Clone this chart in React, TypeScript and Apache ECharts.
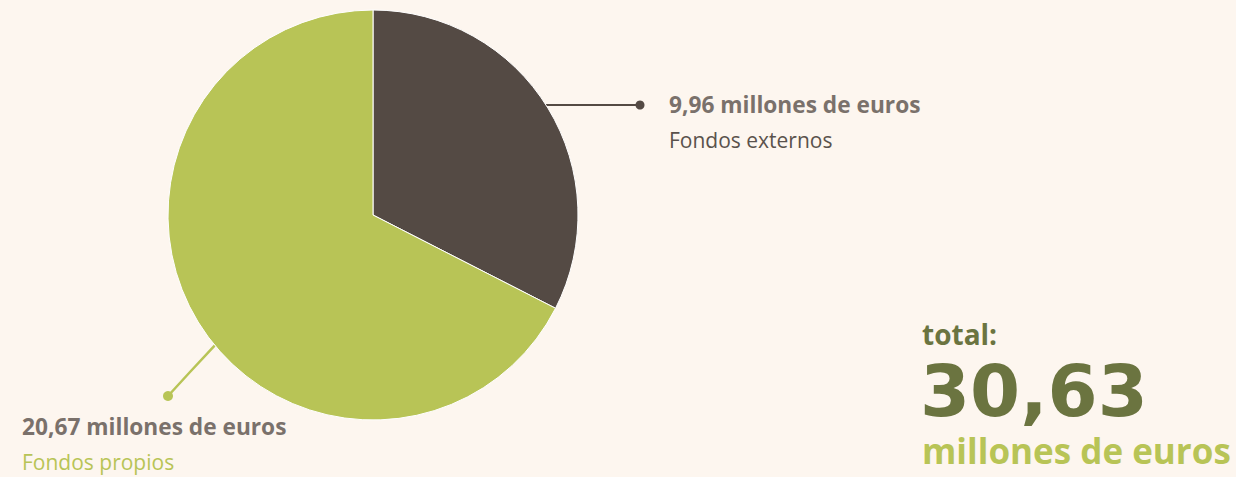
import React, { useEffect, useRef } from "react";
import * as echarts from "echarts";

const categories = ["Fondos externos", "Fondos propios"];
const values = [9.96, 20.67];
const valueLabels = ["9,96 millones de euros", "20,67 millones de euros"];
const totalLabel = "30,63";
const totalUnit = "millones de euros";
const totalTitle = "total:";

const COLORS = ["#544a44", "#b8c456"];
const BG = "#fdf6ef";
const FONT = "'Open Sans', 'Noto Sans', sans-serif";

export default function App() {
  const ref = useRef<HTMLDivElement>(null);
  useEffect(() => {
    document.body.style.margin = "0";
    const chart = echarts.init(ref.current!, null, { renderer: "svg" });
    const cx = 373, cy = 215, R = 205;
    const edgeAtY = (y: number) => [cx + Math.sqrt(R * R - (y - cy) * (y - cy)), y];
    const edgeAtAngle = (deg: number) => {
      const a = (deg * Math.PI) / 180;
      return [cx + R * Math.sin(a), cy - R * Math.cos(a)];
    };
    chart.setOption({
      animation: false,
      backgroundColor: BG,
      series: [
        {
          type: "pie",
          center: [cx, cy],
          radius: R,
          startAngle: 90,
          clockwise: true,
          silent: true,
          itemStyle: { borderColor: "#ffffff", borderWidth: 1 },
          data: categories.map((c, i) => ({
            name: c,
            value: values[i],
            itemStyle: { color: COLORS[i] },
            labelLine: { lineStyle: { color: COLORS[i], width: i === 0 ? 2 : 2.5 } },
            label: {
              formatter: `{v|${valueLabels[i]}}\n{${i === 0 ? "n" : "g"}|${c}}`,
            },
          })),
          label: {
            show: true,
            position: "outside",
            align: "left",
            overflow: "none",
            edgeDistance: 0,
            bleedMargin: 0,
            rich: {
              v: { fontFamily: FONT, fontSize: 22.7, fontWeight: "bold", color: "#7a716b", lineHeight: 35 },
              n: { fontFamily: FONT, fontSize: 21, color: "#5a524c", lineHeight: 35 },
              g: { fontFamily: FONT, fontSize: 21, color: "#b8c456", lineHeight: 35 },
            },
          },
          labelLine: { show: true },
          labelLayout: (p: any) => {
            if (p.dataIndex === 0) {
              return {
                x: 669,
                y: 87,
                align: "left",
                verticalAlign: "top",
                labelLinePoints: [edgeAtY(105), [600, 105], [640, 105]],
              };
            }
            return {
              x: 22,
              y: 409,
              align: "left",
              verticalAlign: "top",
              labelLinePoints: [edgeAtAngle(230.5), [190, 372], [168, 396]],
            };
          },
        },
      ],
      graphic: [
        { type: "circle", shape: { cx: 640, cy: 105, r: 4.5 }, style: { fill: COLORS[0] } },
        { type: "circle", shape: { cx: 168, cy: 396, r: 5 }, style: { fill: COLORS[1] } },
        {
          type: "text",
          x: 922,
          y: 334,
          style: { text: totalTitle, font: `bold 28px ${FONT}`, fill: "#6b7440", verticalAlign: "middle", lineHeight: 24 },
        },
        {
          type: "text",
          x: 920,
          y: 391,
          style: {
            text: totalLabel,
            font: `bold 72px 'DejaVu Sans', ${FONT}`,
            fill: "#6b7440",
            verticalAlign: "middle",
            lineHeight: 50,
          },
        },
        {
          type: "text",
          x: 922,
          y: 450,
          style: { text: totalUnit, font: `bold 35px ${FONT}`, fill: "#b8c456", verticalAlign: "middle", lineHeight: 26 },
        },
      ],
    });
    return () => chart.dispose();
  }, []);
  return <div ref={ref} style={{ width: 1236, height: 477 }} />;
}
